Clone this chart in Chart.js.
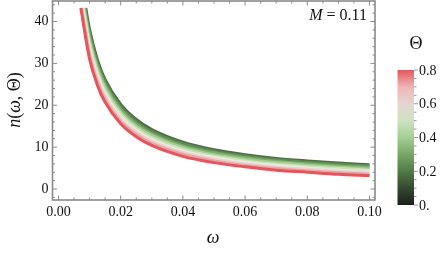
<!DOCTYPE html>
<html>
<head>
<meta charset="utf-8">
<script src="https://cdn.jsdelivr.net/npm/chart.js@4"></script>
<style>
  html, body { margin: 0; padding: 0; background: #fff; }
</style>
</head>
<body>
<canvas id="chartCanvas" width="444" height="254"></canvas>
<script>
// omega grid shared by all curves
const omega = [0.01, 0.0125, 0.015, 0.02, 0.025, 0.03, 0.04, 0.05, 0.06, 0.07, 0.08, 0.09, 0.1];
const thetas = [0, 0.1, 0.2, 0.3, 0.4, 0.5, 0.6, 0.7, 0.8];

// where each curve leaves the plot range at the top
const nCut = 43.2;
const omegaCut = [0.00876, 0.00855, 0.00835, 0.00814, 0.00794, 0.00775, 0.00755, 0.00736, 0.00717];

// n(omega, Theta)
const nTheta00 = [38.1, 30.9, 26.1, 20.2, 16.6, 14.2, 11.2, 9.4, 8.2, 7.3, 6.7, 6.2, 5.8];
const nTheta01 = [37.2, 30.2, 25.5, 19.6, 16.1, 13.7, 10.8, 9.0, 7.8, 7.0, 6.4, 5.9, 5.5];
const nTheta02 = [36.3, 29.4, 24.8, 19.0, 15.5, 13.2, 10.3, 8.6, 7.5, 6.6, 6.0, 5.5, 5.2];
const nTheta03 = [35.4, 28.6, 24.1, 18.4, 15.0, 12.8, 9.9, 8.2, 7.1, 6.3, 5.7, 5.2, 4.8];
const nTheta04 = [34.6, 27.9, 23.4, 17.9, 14.5, 12.3, 9.5, 7.8, 6.7, 5.9, 5.3, 4.9, 4.5];
const nTheta05 = [33.7, 27.1, 22.7, 17.3, 14.0, 11.8, 9.1, 7.5, 6.4, 5.6, 5.0, 4.5, 4.2];
const nTheta06 = [32.8, 26.4, 22.1, 16.7, 13.5, 11.4, 8.7, 7.1, 6.0, 5.2, 4.7, 4.2, 3.9];
const nTheta07 = [31.9, 25.6, 21.4, 16.1, 13.0, 10.9, 8.3, 6.7, 5.6, 4.9, 4.3, 3.9, 3.5];
const nTheta08 = [31.0, 24.8, 20.7, 15.6, 12.5, 10.4, 7.8, 6.3, 5.3, 4.5, 4.0, 3.5, 3.2];
const series = [nTheta00, nTheta01, nTheta02, nTheta03, nTheta04, nTheta05, nTheta06, nTheta07, nTheta08];

const xTicks = [0, 0.02, 0.04, 0.06, 0.08, 0.1];
const yTicks = [0, 10, 20, 30, 40];
const barTicks = [0, 0.2, 0.4, 0.6, 0.8];
const barLabels = ['0.', '0.2', '0.4', '0.6', '0.8'];

// colour bar (watermelon-like) and the colours the curves show in the band
const barColors = ['#1d201d', '#34492f', '#527a46', '#77a766', '#a3cf92', '#cde3c0', '#e5d6cf', '#eeb5b6', '#e2575d'];
const curveColors = ['#4a6f40', '#5f8c52', '#7fac6c', '#a4cb92', '#c9e2ba', '#ebe8df', '#f3cccc', '#eea2a4', '#e2575d'];

const serif = "'Liberation Serif', 'Times New Roman', serif";

function drawPieces(ctx, pieces, x, y, align) {
    let total = 0;
    pieces.forEach(p => { ctx.font = p.font; total += ctx.measureText(p.t).width; });
    let cx = align === 'center' ? x - total / 2 : (align === 'right' ? x - total : x);
    ctx.textAlign = 'left';
    pieces.forEach(p => {
        ctx.font = p.font;
        ctx.fillText(p.t, cx, y);
        cx += ctx.measureText(p.t).width;
    });
}

// frame with inward ticks, titles, colour bar
const decorations = {
    id: 'decorations',
    afterDatasetsDraw(c) {
        const ctx = c.ctx;
        const a = c.chartArea;
        const x = c.scales.x, y = c.scales.y;
        ctx.save();
        ctx.strokeStyle = '#8a8a8a';
        ctx.lineWidth = 1;
        ctx.beginPath();
        for (let i = 0; i <= 20; i++) {
            const px = x.getPixelForValue(i * 0.005);
            const len = i % 4 === 0 ? 4.5 : 2.5;
            ctx.moveTo(px, a.bottom); ctx.lineTo(px, a.bottom - len);
            ctx.moveTo(px, a.top); ctx.lineTo(px, a.top + len);
        }
        for (let i = -1; i <= 22; i++) {
            const py = y.getPixelForValue(i * 2);
            if (py < a.top || py > a.bottom) continue;
            const len = i % 5 === 0 ? 4.5 : 2.5;
            ctx.moveTo(a.left, py); ctx.lineTo(a.left + len, py);
            ctx.moveTo(a.right, py); ctx.lineTo(a.right - len, py);
        }
        ctx.stroke();
        ctx.lineWidth = 1.6;
        ctx.strokeRect(a.left, a.top, a.right - a.left, a.bottom - a.top);

        ctx.fillStyle = '#111';
        ctx.textBaseline = 'alphabetic';
        // M label
        drawPieces(ctx, [
            { t: 'M', font: 'italic 16px ' + serif },
            { t: ' = 0.11', font: '16px ' + serif }
        ], 367, 20, 'right');

        // x title
        drawPieces(ctx, [{ t: 'ω', font: 'italic 18px ' + serif }], 213, 243, 'center');

        // y title
        ctx.save();
        ctx.translate(20, 100);
        ctx.rotate(-Math.PI / 2);
        drawPieces(ctx, [
            { t: 'n', font: 'italic 18px ' + serif },
            { t: '(', font: '18px ' + serif },
            { t: 'ω', font: 'italic 18px ' + serif },
            { t: ', Θ)', font: '18px ' + serif }
        ], 0, 0, 'center');
        ctx.restore();

        // colour bar
        const bx = 397.5, bw = 16.5, bTop = 70, bBot = 205;
        const g = ctx.createLinearGradient(0, bBot, 0, bTop);
        barColors.forEach((col, i) => g.addColorStop(i / (barColors.length - 1), col));
        ctx.fillStyle = g;
        ctx.fillRect(bx, bTop, bw, bBot - bTop);
        const barY = v => bBot - (v / 0.8) * (bBot - bTop);
        ctx.strokeStyle = '#999';
        ctx.lineWidth = 1;
        ctx.beginPath();
        for (let i = 0; i <= 16; i++) {
            const py = barY(i * 0.05);
            const len = i % 4 === 0 ? 4 : 2.5;
            ctx.moveTo(bx + bw, py); ctx.lineTo(bx + bw + len, py);
        }
        ctx.stroke();
        ctx.fillStyle = '#111';
        ctx.font = '14px ' + serif;
        ctx.textAlign = 'left';
        ctx.textBaseline = 'middle';
        barTicks.forEach((v, i) => ctx.fillText(barLabels[i], 419, barY(v) + 1));
        ctx.textBaseline = 'alphabetic';
        drawPieces(ctx, [{ t: 'Θ', font: '18px ' + serif }], 416, 49, 'center');
        ctx.restore();
    }
};

const datasets = thetas.map((th, i) => ({
    label: 'Θ = ' + th,
    data: [{ x: omegaCut[i], y: nCut }].concat(omega.map((w, j) => ({ x: w, y: series[i][j] }))),
    borderColor: curveColors[i],
    borderWidth: 3,
    pointRadius: 0,
    fill: false,
    cubicInterpolationMode: 'monotone',
    order: thetas.length - i
}));

const ctx = document.getElementById("chartCanvas").getContext("2d");
const chart = new Chart(ctx, {
    type: 'line',
    data: { datasets: datasets },
    options: {
        responsive: false,
        animation: false,
        layout: { padding: { top: 1, right: 69, left: 0, bottom: 0 } },
        plugins: { legend: { display: false }, tooltip: { enabled: false } },
        scales: {
            x: {
                type: 'linear',
                min: -0.00193,
                max: 0.10177,
                grid: { display: false, drawTicks: false },
                border: { display: false },
                afterFit: s => { s.height = 54; s.paddingLeft = 0; s.paddingRight = 0; },
                afterBuildTicks: s => { s.ticks = xTicks.map(v => ({ value: v })); },
                ticks: {
                    padding: 4,
                    maxRotation: 0,
                    color: '#111',
                    font: { family: serif, size: 14 },
                    callback: v => v.toFixed(2)
                }
            },
            y: {
                type: 'linear',
                min: -2.63,
                max: 44.9,
                grid: { display: false, drawTicks: false },
                border: { display: false },
                afterFit: s => { s.width = 52.5; s.paddingTop = 0; s.paddingBottom = 0; },
                afterBuildTicks: s => { s.ticks = yTicks.map(v => ({ value: v })); },
                ticks: {
                    padding: 4,
                    color: '#111',
                    font: { family: serif, size: 14 },
                    callback: v => String(v)
                }
            }
        }
    },
    plugins: [decorations]
});
</script>
</body>
</html>
